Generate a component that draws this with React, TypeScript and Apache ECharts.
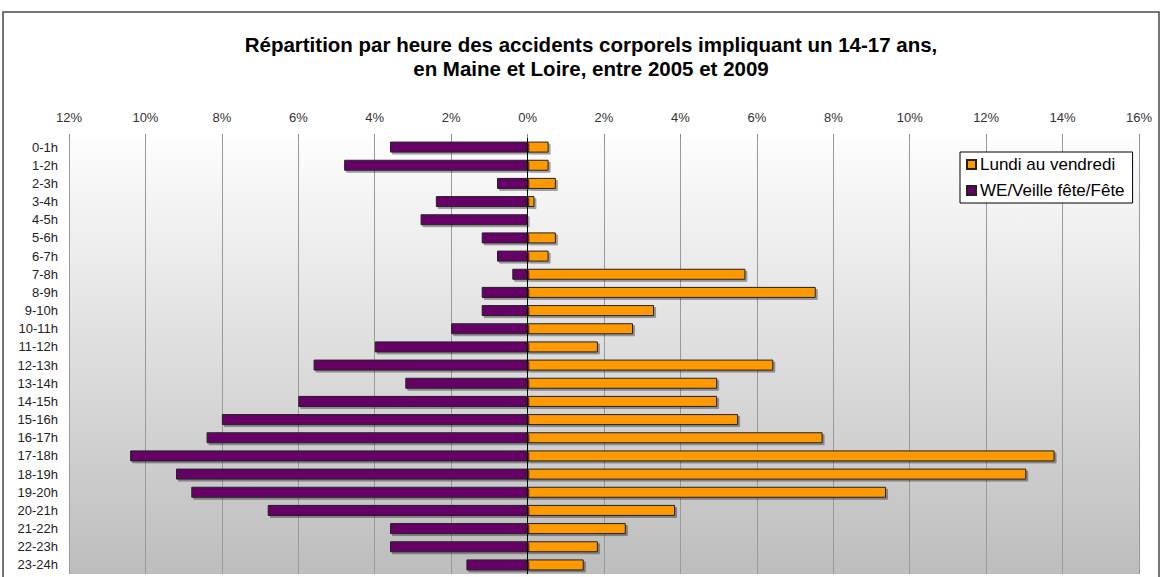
import React, { useEffect, useRef } from "react";
import * as echarts from "echarts";

const hours = [
  "0-1h", "1-2h", "2-3h", "3-4h", "4-5h", "5-6h", "6-7h", "7-8h",
  "8-9h", "9-10h", "10-11h", "11-12h", "12-13h", "13-14h", "14-15h", "15-16h",
  "16-17h", "17-18h", "18-19h", "19-20h", "20-21h", "21-22h", "22-23h", "23-24h",
];

// Lundi au vendredi (%)
const weekday = [
  0.55, 0.55, 0.74, 0.18, 0, 0.74, 0.55, 5.70,
  7.54, 3.31, 2.76, 1.84, 6.43, 4.96, 4.96, 5.51,
  7.72, 13.79, 13.05, 9.38, 3.86, 2.57, 1.84, 1.47,
];

// WE/Veille fête/Fête (%)
const weekend = [
  3.6, 4.8, 0.8, 2.4, 2.8, 1.2, 0.8, 0.4,
  1.2, 1.2, 2.0, 4.0, 5.6, 3.2, 6.0, 8.0,
  8.4, 10.4, 9.2, 8.8, 6.8, 3.6, 3.6, 1.6,
];

const seriesNames = ["Lundi au vendredi", "WE/Veille fête/Fête"];
const titleLines = [
  "Répartition par heure des accidents corporels impliquant un 14-17 ans,",
  "en Maine et Loire, entre 2005 et 2009",
];

export default function App() {
  const ref = useRef<HTMLDivElement>(null);
  useEffect(() => {
    if (!ref.current) return;
    const chart = echarts.init(ref.current, undefined, { renderer: "svg" });
    const font = "'Liberation Sans', Arial, sans-serif";
    const barStyle = (color: string) => ({
      color,
      borderColor: "#222",
      borderWidth: 1,
      shadowColor: "rgba(0,0,0,0.35)",
      shadowOffsetX: 2,
      shadowOffsetY: 2,
      shadowBlur: 0,
    });
    chart.setOption({
      animation: false,
      textStyle: { fontFamily: font },
      title: {
        text: titleLines.join("\n"),
        left: 586,
        top: 27,
        textAlign: "center",
        textStyle: {
          fontFamily: font,
          fontSize: 20.5,
          fontWeight: "bold",
          color: "#000",
          lineHeight: 24,
        },
      },
      graphic: [
        {
          type: "rect",
          shape: { x: 3, y: 12, width: 1156, height: 620 },
          style: { fill: "none", stroke: "#4a4a4a", lineWidth: 1.5 },
          silent: true,
          z: -10,
        },
      ],
      legend: {
        orient: "vertical",
        left: 960,
        top: 152,
        data: seriesNames,
        backgroundColor: "#fff",
        borderColor: "#000",
        borderWidth: 1,
        padding: [4, 8, 4, 6],
        itemGap: 9,
        itemWidth: 9,
        itemHeight: 9,
        icon: "rect",
        textStyle: { fontFamily: font, fontSize: 17, color: "#000", padding: [0, 0, 0, -1] },
      },
      grid: {
        left: 69,
        right: 23,
        top: 138,
        bottom: 3,
        show: true,
        borderWidth: 0,
        backgroundColor: {
          type: "linear",
          x: 0,
          y: 0,
          x2: 0,
          y2: 1,
          colorStops: [
            { offset: 0, color: "#fdfdfd" },
            { offset: 1, color: "#bdbdbd" },
          ],
        },
      },
      xAxis: {
        type: "value",
        position: "top",
        min: -12,
        max: 16,
        interval: 2,
        axisLine: { show: false },
        axisTick: { show: true, length: 4, lineStyle: { color: "#888" } },
        axisLabel: {
          margin: 14,
          fontSize: 13,
          color: "#333",
          fontFamily: font,
          formatter: (v: number) => `${Math.abs(v)}%`,
        },
        splitLine: { show: true, lineStyle: { color: "#9a9a9a", width: 1 } },
      },
      yAxis: {
        type: "category",
        data: hours,
        inverse: true,
        axisLine: { show: false },
        axisTick: { show: false },
        axisLabel: { margin: 11, fontSize: 13, color: "#222", fontFamily: font },
      },
      series: [
        {
          name: seriesNames[0],
          type: "bar",
          data: weekday,
          barWidth: 11,
          barGap: "-100%",
          itemStyle: barStyle("#ff9900"),
          z: 3,
          markLine: {
            silent: true,
            symbol: "none",
            label: { show: false },
            lineStyle: { color: "#000", type: "solid", width: 1 },
            data: [{ xAxis: 0 }],
            z: 5,
          },
        },
        {
          name: seriesNames[1],
          type: "bar",
          data: weekend.map((v) => -v),
          barWidth: 11,
          itemStyle: barStyle("#660066"),
          z: 3,
        },
      ],
    });
    return () => chart.dispose();
  }, []);
  return (
    <div
      ref={ref}
      style={{ position: "fixed", left: 0, top: 0, width: 1162, height: 577, background: "#fff" }}
    />
  );
}
